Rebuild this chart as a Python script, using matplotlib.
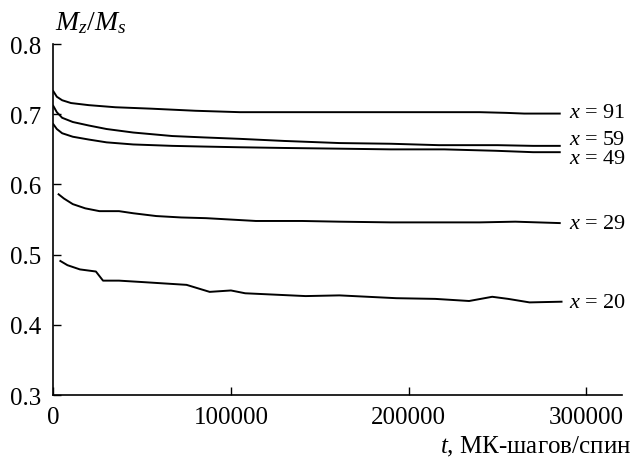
import matplotlib
matplotlib.use("Agg")
import matplotlib.pyplot as plt

plt.rcParams["font.family"] = ["Liberation Serif", "DejaVu Serif"]
plt.rcParams["mathtext.fontset"] = "custom"
plt.rcParams["mathtext.rm"] = "Liberation Serif"
plt.rcParams["mathtext.it"] = "Liberation Serif:italic"

# --- magnetisation relaxation curves, M_z/M_s vs MC steps per spin ---
t91 = [0, 2000, 5000, 10000, 20000, 35000, 55000, 80000, 105000, 130000,
       160000, 190000, 215000, 240000, 255000, 265000, 285000]
m91 = [0.733, 0.725, 0.720, 0.716, 0.713, 0.710, 0.708, 0.705, 0.703, 0.703,
       0.703, 0.703, 0.703, 0.703, 0.702, 0.701, 0.701]

t59 = [0, 2000, 5000, 11000, 20000, 30000, 45000, 67000, 85000, 105000,
       130000, 161000, 190000, 217000, 250000, 270000, 285000]
m59 = [0.712, 0.703, 0.695, 0.689, 0.684, 0.679, 0.674, 0.669, 0.667, 0.665,
       0.662, 0.659, 0.658, 0.656, 0.656, 0.655, 0.655]

t49 = [0, 2000, 5000, 11000, 20000, 30000, 45000, 67000, 85000, 105000,
       130000, 161000, 190000, 220000, 249000, 270000, 285000]
m49 = [0.686, 0.679, 0.673, 0.668, 0.664, 0.660, 0.657, 0.655, 0.654, 0.653,
       0.652, 0.651, 0.650, 0.650, 0.648, 0.646, 0.646]

t29 = [3000, 6000, 11000, 18000, 26000, 37000, 45000, 58000, 72000, 86000,
       100000, 114000, 140000, 161000, 190000, 215000, 240000, 260000, 285000]
m29 = [0.586, 0.580, 0.572, 0.566, 0.562, 0.562, 0.559, 0.555, 0.553, 0.552,
       0.550, 0.548, 0.548, 0.547, 0.546, 0.546, 0.546, 0.547, 0.545]

t20 = [4000, 8000, 15000, 24000, 28000, 37000, 50000, 75000, 88000, 100000,
       108000, 125000, 142000, 161000, 193000, 215000, 234000, 247000, 256000,
       268000, 286000]
m20 = [0.491, 0.485, 0.479, 0.476, 0.463, 0.463, 0.461, 0.457, 0.447, 0.449,
       0.445, 0.443, 0.441, 0.442, 0.438, 0.437, 0.434, 0.440, 0.437,
       0.432, 0.433]

conc = ["91", "59", "49", "29", "20"]
label_y = [0.703, 0.664, 0.637, 0.544, 0.432]
label_t = 290000

series = [(t91, m91), (t59, m59), (t49, m49), (t29, m29), (t20, m20)]

fig = plt.figure(figsize=(6.34, 4.60), dpi=100)
ax = fig.add_axes([0.084, 0.139, 0.897, 0.763])

for (t, m), c, ly in zip(series, conc, label_y):
    ax.plot(t, m, color="black", lw=1.4)
    ax.text(label_t, ly, f"$x$ = {c}", fontsize=16, ha="left", va="center")

ax.set_xlim(0, 320000)
ax.set_ylim(0.3, 0.8)
ax.set_xticks([0, 100000, 200000, 300000])
ax.set_xticklabels(["0", "100000", "200000", "300000"])
ax.set_yticks([0.3, 0.4, 0.5, 0.6, 0.7, 0.8])
ax.set_yticklabels(["0.3", "0.4", "0.5", "0.6", "0.7", "0.8"])

for side in ["top", "right"]:
    ax.spines[side].set_visible(False)
for side in ["left", "bottom"]:
    ax.spines[side].set_linewidth(1.2)

ax.tick_params(direction="in", length=6, width=1.0, labelsize=18)
ax.tick_params(axis="y", pad=9)
ax.tick_params(axis="x", pad=8)

fig.text(0.087, 0.950, "$M_z/M_s$", fontsize=20, ha="left", va="center")
fig.text(0.995, 0.028, "$t$, МК-шагов/спин", fontsize=18, ha="right", va="center")

fig.savefig("out.png", dpi=100)
